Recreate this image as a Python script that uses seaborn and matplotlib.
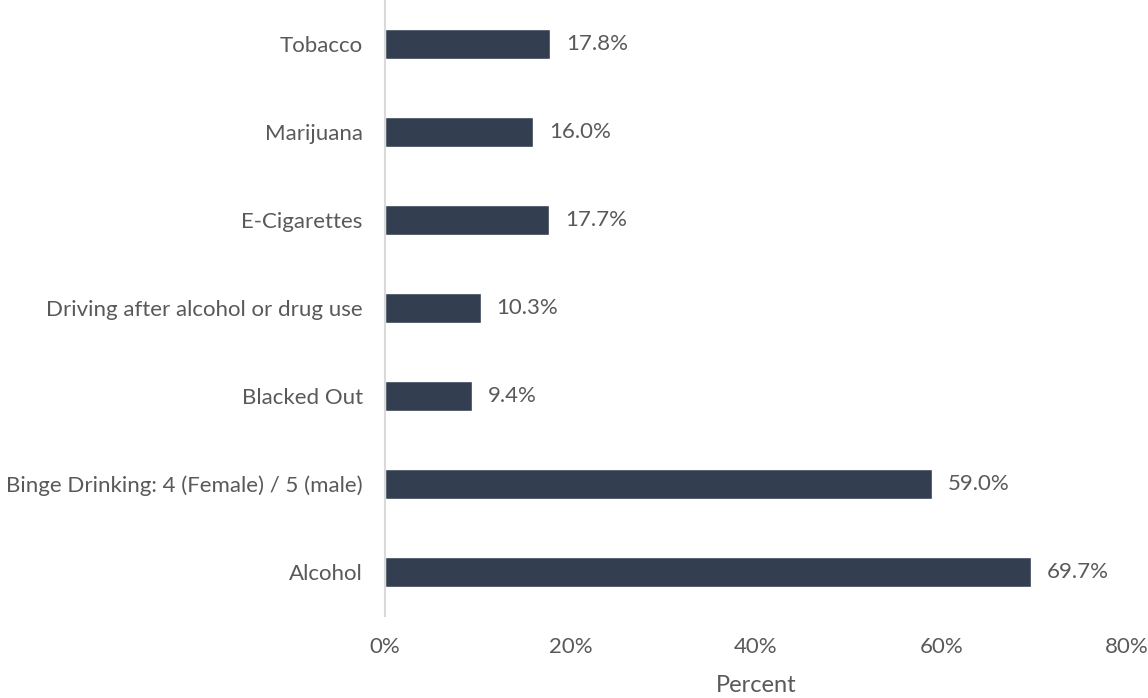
import matplotlib
matplotlib.use("Agg")
import matplotlib.pyplot as plt
import seaborn as sns
import pandas as pd

categories = ["Tobacco", "Marijuana", "E-Cigarettes", "Driving after alcohol or drug use",
              "Blacked Out", "Binge Drinking: 4 (Female) / 5 (male)", "Alcohol"]
values = [17.8, 16.0, 17.7, 10.3, 9.4, 59.0, 69.7]
x_ticks = [0, 20, 40, 60, 80]
x_tick_labels = ["0%", "20%", "40%", "60%", "80%"]

sns.set_theme(style="white")
plt.rcParams['font.family'] = ['Lato', 'DejaVu Sans']

df = pd.DataFrame({"category": categories, "value": values})

fig = plt.figure(figsize=(11.48, 6.98), dpi=100)
ax = fig.add_axes([385/1148, 1 - 616/698, (1127 - 385)/1148, 616/698])

sns.barplot(data=df, y="category", x="value", orient="h", color="#333F50",
            width=0.35, ax=ax, saturation=1)

text_color = "#595959"
for i, v in enumerate(values):
    ax.text(v + 1.7, i, f"{v:.1f}%", va="center", ha="left", fontsize=16, color=text_color)

ax.set_xlim(0, 80)
ax.set_ylim(6.5, -0.5)
ax.set_xticks(x_ticks)
ax.set_xticklabels(x_tick_labels)
ax.tick_params(axis="x", length=0, pad=15, labelsize=16, labelcolor=text_color)
ax.tick_params(axis="y", length=0, pad=16, labelsize=16, labelcolor=text_color)
ax.set_ylabel("")
ax.set_xlabel("Percent", fontsize=17, color=text_color, labelpad=13)

for s in ["top", "right", "bottom"]:
    ax.spines[s].set_visible(False)
ax.spines["left"].set_color("#D9D9D9")
ax.spines["left"].set_linewidth(1.5)
ax.grid(False)

fig.savefig("out.png", dpi=100)
